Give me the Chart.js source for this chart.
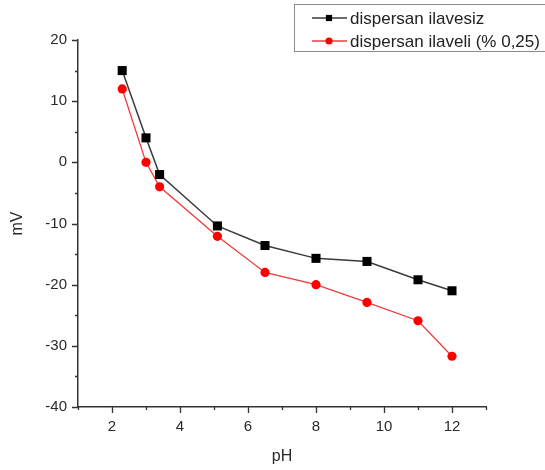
<!DOCTYPE html>
<html>
<head>
<meta charset="utf-8">
<script src="https://cdn.jsdelivr.net/npm/chart.js@4/dist/chart.umd.min.js"></script>
<style>
  html, body { margin: 0; padding: 0; background: #fff; }
</style>
</head>
<body>
<canvas id="chart" width="545" height="470"></canvas>
<script>
// data
const phValues = [2.3, 3, 3.4, 5.1, 6.5, 8, 9.5, 11, 12];
const mvWithout = [15, 4, -2, -10.4, -13.6, -15.7, -16.2, -19.2, -21];
const mvWith = [12, 0, -4, -12.1, -18, -20, -22.9, -25.9, -31.7];
const seriesNames = ['dispersan ilavesiz', 'dispersan ilaveli (% 0,25)'];
const xTickLabels = [2, 4, 6, 8, 10, 12];
const yTickLabels = [20, 10, 0, -10, -20, -30, -40];

const fontFamily = '"Liberation Sans", Arial, sans-serif';
const axisColor = '#333';

function toPoints(xs, ys) {
  return xs.map((x, i) => ({ x: x, y: ys[i] }));
}

// origin-style tick marks: long at labelled values, short in between
const tickMarks = {
  id: 'tickMarks',
  afterDraw(chart) {
    const ctx = chart.ctx;
    const xs = chart.scales.x;
    const ys = chart.scales.y;
    ctx.save();
    ctx.strokeStyle = axisColor;
    ctx.lineWidth = 1.3;
    ctx.beginPath();
    xs.ticks.forEach(t => {
      const px = Math.round(xs.getPixelForValue(t.value)) + 0.5;
      const len = xTickLabels.includes(t.value) ? 6 : 3;
      ctx.moveTo(px, ys.bottom);
      ctx.lineTo(px, ys.bottom + len);
    });
    ys.ticks.forEach(t => {
      const py = Math.round(ys.getPixelForValue(t.value)) + 0.5;
      const len = yTickLabels.includes(t.value) ? 6 : 3;
      ctx.moveTo(xs.left, py);
      ctx.lineTo(xs.left - len, py);
    });
    ctx.stroke();
    ctx.restore();
  }
};

// boxed legend in the top right corner
const boxLegend = {
  id: 'boxLegend',
  afterDraw(chart) {
    const ctx = chart.ctx;
    ctx.save();
    ctx.strokeStyle = '#8a8a8a';
    ctx.lineWidth = 1;
    ctx.strokeRect(294.5, 4.5, 252, 47);
    ctx.font = '17px ' + fontFamily;
    ctx.textBaseline = 'middle';
    chart.data.datasets.forEach((ds, i) => {
      const y = 18 + i * 23;
      ctx.strokeStyle = ds.borderColor;
      ctx.lineWidth = ds.borderWidth;
      ctx.beginPath();
      ctx.moveTo(312, y);
      ctx.lineTo(347, y);
      ctx.stroke();
      ctx.fillStyle = ds.pointBackgroundColor;
      Chart.helpers.drawPoint(ctx, {
        pointStyle: ds.pointStyle,
        radius: ds.pointStyle === 'rect' ? 4.4 : 3.6,
        rotation: 0,
        borderWidth: 0
      }, 329, y);
      ctx.fillStyle = '#222';
      ctx.fillText(ds.label, 350, y + 1);
    });
    ctx.restore();
  }
};

new Chart(document.getElementById('chart'), {
  type: 'line',
  data: {
    datasets: [
      {
        label: seriesNames[0],
        data: toPoints(phValues, mvWithout),
        borderColor: '#3a3a3a',
        borderWidth: 1.5,
        pointStyle: 'rect',
        pointRadius: 6.4,
        pointBackgroundColor: '#000000',
        pointBorderWidth: 0,
        tension: 0,
        order: 0
      },
      {
        label: seriesNames[1],
        data: toPoints(phValues, mvWith),
        borderColor: '#f03a3a',
        borderWidth: 1.3,
        pointStyle: 'circle',
        pointRadius: 4.6,
        pointBackgroundColor: '#ff0000',
        pointBorderWidth: 0,
        tension: 0,
        order: 1
      }
    ]
  },
  options: {
    responsive: false,
    animation: false,
    devicePixelRatio: 1,
    layout: { padding: { top: 40, right: 59, left: 0, bottom: 0 } },
    plugins: {
      legend: { display: false },
      tooltip: { enabled: false }
    },
    scales: {
      x: {
        type: 'linear',
        min: 1,
        max: 13,
        afterFit: s => { s.height = 63; },
        grid: { display: false },
        border: { display: true, color: axisColor, width: 1.5 },
        ticks: {
          stepSize: 1,
          padding: 3,
          color: '#2a2a2a',
          font: { family: fontFamily, size: 15 },
          maxRotation: 0,
          autoSkip: false,
          callback: v => (xTickLabels.includes(v) ? String(v) : '')
        },
        title: {
          display: true,
          text: 'pH',
          color: '#2a2a2a',
          font: { family: fontFamily, size: 16 },
          padding: { top: 0, bottom: 4 }
        }
      },
      y: {
        type: 'linear',
        min: -40,
        max: 20,
        afterFit: s => { s.width = 78; },
        grid: { display: false },
        border: { display: true, color: axisColor, width: 1.5 },
        ticks: {
          stepSize: 5,
          padding: 3,
          color: '#2a2a2a',
          font: { family: fontFamily, size: 15 },
          autoSkip: false,
          callback: v => (yTickLabels.includes(v) ? String(v) : '')
        },
        title: {
          display: true,
          text: 'mV',
          color: '#2a2a2a',
          font: { family: fontFamily, size: 16 },
          padding: { top: 8, bottom: 0 }
        }
      }
    }
  },
  plugins: [tickMarks, boxLegend]
});
</script>
</body>
</html>
